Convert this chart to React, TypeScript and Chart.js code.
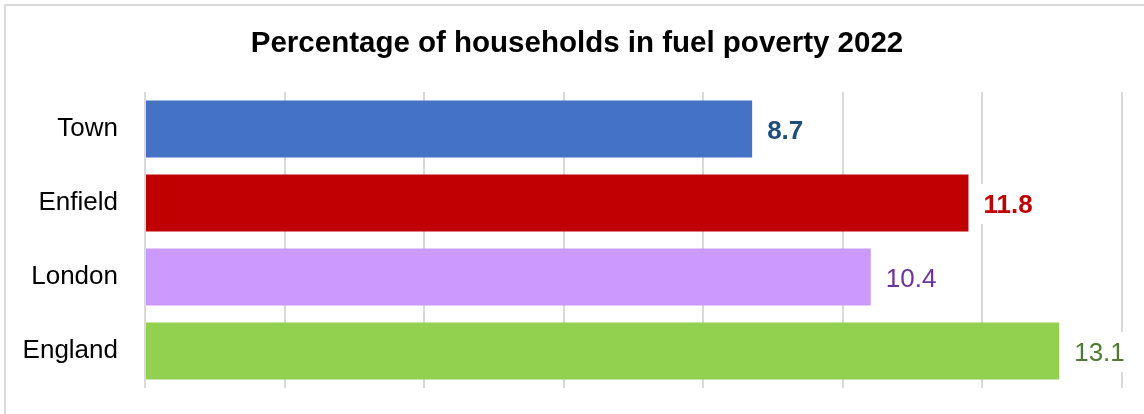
import React, { useEffect, useRef } from "react";
import { Chart, registerables } from "chart.js";

Chart.register(...registerables);

const categories = ["Town", "Enfield", "London", "England"];
const values = [8.7, 11.8, 10.4, 13.1];
const barColors = ["#4472C4", "#C00000", "#CC99FF", "#92D050"];
const labelColors = ["#1F4E79", "#C00000", "#7030A0", "#4E7A34"];
const labelBold = [true, true, false, false];
const titleText = "Percentage of households in fuel poverty 2022";

const FONT = "'Liberation Sans', Arial, sans-serif";

const framePlugin = {
  id: "frame",
  beforeDraw(chart: any) {
    const ctx = chart.ctx;
    ctx.save();
    ctx.strokeStyle = "#d9d9d9";
    ctx.lineWidth = 2;
    ctx.beginPath();
    ctx.moveTo(5, chart.height + 5);
    ctx.lineTo(5, 5);
    ctx.lineTo(chart.width + 5, 5);
    ctx.stroke();
    ctx.restore();
  },
  afterDraw(chart: any) {
    const ctx = chart.ctx;
    ctx.save();
    ctx.font = `bold 29.5px ${FONT}`;
    ctx.fillStyle = "#000000";
    ctx.textAlign = "center";
    ctx.textBaseline = "middle";
    ctx.fillText(titleText, 577, 44);
    ctx.restore();
  },
};

const valueLabelPlugin = {
  id: "valueLabels",
  afterDatasetsDraw(chart: any) {
    const ctx = chart.ctx;
    const meta = chart.getDatasetMeta(0);
    meta.data.forEach((bar: any, i: number) => {
      const text = String(values[i]);
      ctx.save();
      ctx.font = `${labelBold[i] ? "bold " : ""}26px ${FONT}`;
      ctx.textAlign = "left";
      ctx.textBaseline = "middle";
      const w = ctx.measureText(text).width;
      const x = bar.x + 15;
      const y = bar.y;
      ctx.fillStyle = "#ffffff";
      ctx.fillRect(x - 6, y - 19, w + 12, 40);
      ctx.fillStyle = labelColors[i];
      ctx.fillText(text, x, y + 3);
      ctx.restore();
    });
  },
};

export default function App() {
  const canvasRef = useRef<HTMLCanvasElement | null>(null);

  useEffect(() => {
    if (!canvasRef.current) return;
    const chart = new Chart(canvasRef.current, {
      type: "bar",
      data: {
        labels: categories,
        datasets: [
          {
            data: values,
            backgroundColor: barColors,
            borderWidth: 0,
            barPercentage: 0.77,
            categoryPercentage: 1,
          },
        ],
      },
      options: {
        indexAxis: "y",
        responsive: false,
        animation: false,
        layout: { padding: { left: 10, right: 22, top: 92, bottom: 26 } },
        plugins: {
          legend: { display: false },
          tooltip: { enabled: false },
          title: { display: false },
        },
        scales: {
          x: {
            min: 0,
            max: 14,
            ticks: { display: false, stepSize: 2, padding: 0 },
            grid: { color: "#d9d9d9", lineWidth: 2, drawTicks: false },
            border: { display: false },
            afterFit: (s: any) => {
              s.height = 0;
              s.paddingTop = 0;
              s.paddingBottom = 0;
            },
          },
          y: {
            ticks: {
              color: "#000000",
              font: { family: FONT, size: 26 },
              padding: 27,
            },
            grid: { display: false, drawTicks: false },
            border: { display: false },
            afterFit: (s: any) => {
              s.width = 135;
              s.paddingTop = 0;
              s.paddingBottom = 0;
            },
          },
        },
      },
      plugins: [framePlugin, valueLabelPlugin],
    });
    return () => chart.destroy();
  }, []);

  return (
    <canvas
      ref={canvasRef}
      width={1144}
      height={414}
      style={{ position: "fixed", left: 0, top: 0, width: 1144, height: 414 }}
    />
  );
}
